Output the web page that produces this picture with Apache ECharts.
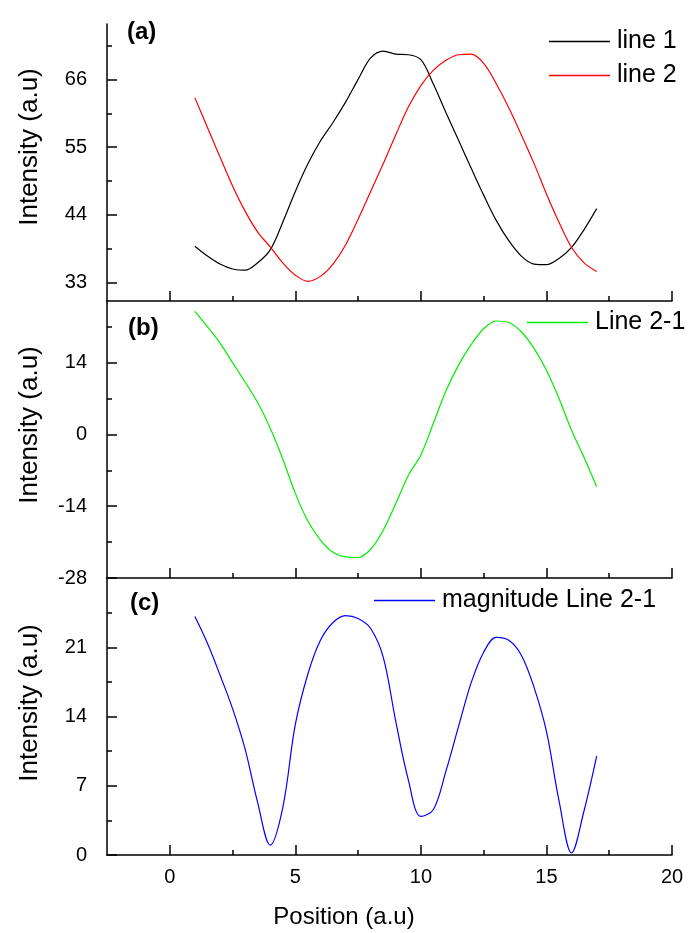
<!DOCTYPE html>
<html>
<head>
<meta charset="utf-8">
<script src="https://cdn.jsdelivr.net/npm/echarts@6/dist/echarts.min.js"></script>
<style>
  html, body { margin: 0; padding: 0; background: #fff; }
  #chart { width: 693px; height: 933px; }
</style>
</head>
<body>
<div id="chart"></div>
<script>
// ---- data ----
const positions = [1, 1.5, 2, 2.5, 3, 3.5, 4, 4.5, 5, 5.5, 6, 6.5, 7, 7.5, 8, 8.5, 9, 9.5, 10, 10.5, 11, 11.5, 12, 12.5, 13, 13.5, 14, 14.5, 15, 15.5, 16, 16.5, 17];
const line1 = [38.9, 37.3, 36.0, 35.2, 35.0, 36.2, 38.3, 42.8, 47.8, 52.3, 56.0, 59.0, 62.3, 66.0, 69.5, 70.6, 70.1, 70.0, 69.2, 65.2, 60.6, 56.1, 51.6, 47.2, 43.1, 39.8, 37.3, 36.0, 35.9, 36.9, 38.7, 41.6, 45.0];
const line2 = [63.0, 58.2, 53.4, 48.7, 44.6, 41.2, 38.8, 36.2, 34.2, 33.2, 34.0, 36.0, 39.1, 43.3, 47.8, 52.3, 57.0, 61.5, 65.0, 67.5, 69.1, 70.0, 70.1, 68.6, 65.3, 61.4, 57.0, 52.4, 47.4, 42.8, 38.7, 36.2, 34.8];
const line21 = [24.0, 21.0, 17.8, 14.0, 10.2, 6.2, 1.2, -4.8, -11.5, -16.9, -20.6, -23.0, -23.9, -24.0, -22.4, -18.7, -13.5, -8.0, -4.0, 2.2, 8.5, 13.5, 17.5, 20.6, 22.1, 21.8, 20.0, 16.8, 12.5, 7.0, 0.8, -4.5, -10.2];
const magnitude21 = [24.1, 21.4, 18.2, 14.8, 10.7, 5.3, 1.0, 4.8, 13.2, 18.3, 21.7, 23.5, 24.2, 23.9, 22.9, 20.0, 13.5, 7.6, 3.9, 4.6, 8.5, 13.0, 17.4, 20.5, 22.0, 21.7, 20.2, 17.0, 12.5, 5.5, 0.2, 4.5, 10.0];

const xMajorTicks = [0, 5, 10, 15, 20];
const xMinorTicks = [2.5, 7.5, 12.5, 17.5];
const yTicksA = [33, 44, 55, 66];
const yMinorA = [38.5, 49.5, 60.5, 71.5];
const yTicksB = [-28, -14, 0, 14];
const yMinorB = [-21, -7, 7, 21];
const yTicksC = [0, 7, 14, 21];
const yMinorC = [3.5, 10.5, 17.5, 24.5];

const names = ['line 1', 'line 2', 'Line 2-1', 'magnitude Line 2-1'];
const panelLabels = ['(a)', '(b)', '(c)'];
const yTitle = 'Intensity (a.u)';
const xTitle = 'Position (a.u)';

// ---- layout ----
const FONT = 'Liberation Sans, Arial, sans-serif';
const L = 107, R = 21, H = 277;
const tops = [24, 301, 578];
const grids = tops.map(t => ({ left: L, right: R, top: t, height: H }));
const axisLine = { show: true, onZero: false, lineStyle: { color: '#000', width: 1.5 } };
const tickStyle = { color: '#000', width: 1.5 };

function zip(xs, ys) { return xs.map((x, i) => [x, ys[i]]); }

const xAxes = [];
const yAxes = [];
const ranges = [[30, 75], [-28, 26], [0, 28]];
const yMajors = [yTicksA, yTicksB, yTicksC];
const yMinors = [yMinorA, yMinorB, yMinorC];

for (let g = 0; g < 3; g++) {
  xAxes.push({
    type: 'value', gridIndex: g, min: -2.5, max: 20, position: 'bottom',
    axisLine: axisLine,
    axisTick: { show: true, inside: true, length: 10, customValues: xMajorTicks, lineStyle: tickStyle },
    axisLabel: { show: g === 2, customValues: xMajorTicks, color: '#000', fontSize: 20, fontFamily: FONT, margin: 12 },
    splitLine: { show: false }
  });
  xAxes.push({
    type: 'value', gridIndex: g, min: -2.5, max: 20, position: 'bottom',
    axisLine: { show: false, onZero: false },
    axisTick: { show: true, inside: true, length: 5, customValues: xMinorTicks, lineStyle: tickStyle },
    axisLabel: { show: false },
    splitLine: { show: false }
  });
  yAxes.push({
    type: 'value', gridIndex: g, min: ranges[g][0], max: ranges[g][1], position: 'left',
    axisLine: axisLine,
    axisTick: { show: true, inside: true, length: 10, customValues: yMajors[g], lineStyle: tickStyle },
    axisLabel: { show: true, customValues: yMajors[g], color: '#000', fontSize: 20, fontFamily: FONT, margin: 20 },
    splitLine: { show: false }
  });
  yAxes.push({
    type: 'value', gridIndex: g, min: ranges[g][0], max: ranges[g][1], position: 'left',
    axisLine: { show: false, onZero: false },
    axisTick: { show: true, inside: true, length: 5, customValues: yMinors[g], lineStyle: tickStyle },
    axisLabel: { show: false },
    splitLine: { show: false }
  });
}

function lineSeries(name, ys, color, g) {
  return {
    name: name, type: 'line', xAxisIndex: g * 2, yAxisIndex: g * 2,
    data: zip(positions, ys), smooth: 0.35, symbol: 'none',
    lineStyle: { color: color, width: 1.2 }, itemStyle: { color: color },
    silent: true, animation: false
  };
}

const legendText = { color: '#000', fontSize: 25, fontFamily: FONT, padding: [0, 0, 0, 2] };
function mkLegend(data, left, top) {
  return { data: data, left: left, top: top, orient: 'vertical', icon: 'rect',
    itemWidth: 61, itemHeight: 1.3, itemGap: 9, textStyle: legendText, selectedMode: false };
}
const legends = [
  mkLegend([names[0], names[1]], 544, 24),
  mkLegend([names[2]], 522, 305),
  mkLegend([names[3]], 369, 583)
];

const labelPos = [[127, 32], [128, 328], [130, 603]];
const yTitleCenters = [147, 425, 703];
const graphics = [];
panelLabels.forEach((t, i) => {
  graphics.push({ type: 'text', x: labelPos[i][0], y: labelPos[i][1],
    style: { text: t, font: 'bold 24px ' + FONT, fill: '#000', align: 'left', verticalAlign: 'middle' } });
});
yTitleCenters.forEach(cy => {
  graphics.push({ type: 'text', x: 30, y: cy, rotation: Math.PI / 2,
    style: { text: yTitle, font: '26px ' + FONT, fill: '#000', align: 'center', verticalAlign: 'middle' } });
});
graphics.push({ type: 'text', x: 344, y: 917,
  style: { text: xTitle, font: '24px ' + FONT, fill: '#000', align: 'center', verticalAlign: 'middle' } });

const chart = echarts.init(document.getElementById('chart'), null, { renderer: 'canvas' });
chart.setOption({
  backgroundColor: '#fff',
  animation: false,
  grid: grids,
  xAxis: xAxes,
  yAxis: yAxes,
  legend: legends,
  graphic: graphics,
  series: [
    lineSeries(names[0], line1, '#000000', 0),
    lineSeries(names[1], line2, '#ff0000', 0),
    lineSeries(names[2], line21, '#00ee00', 1),
    lineSeries(names[3], magnitude21, '#0000ff', 2)
  ]
});
</script>
</body>
</html>
